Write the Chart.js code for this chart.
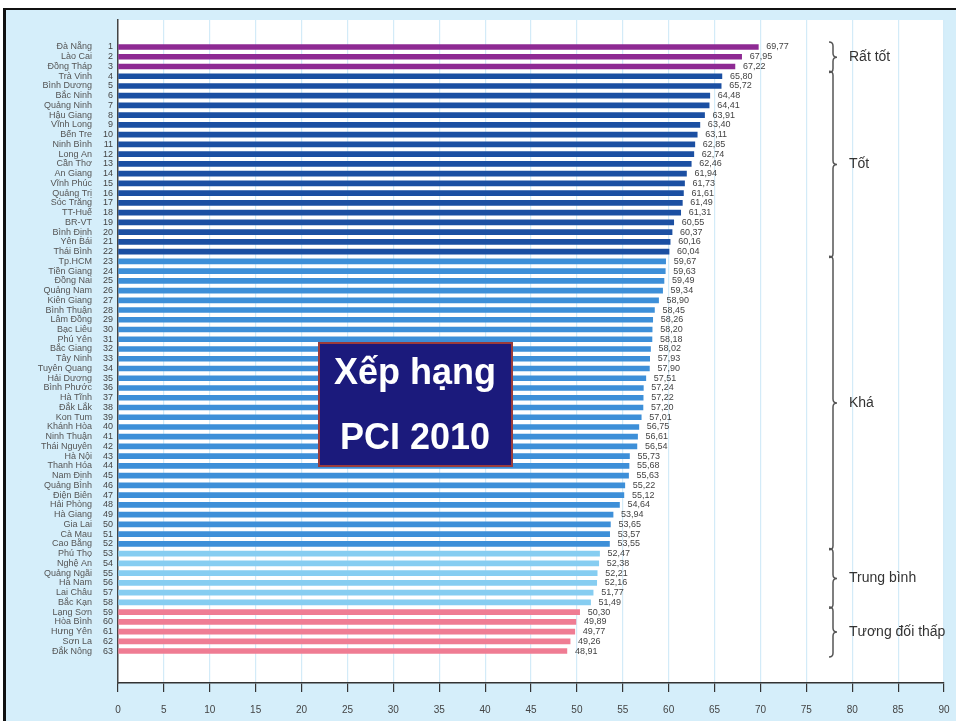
<!DOCTYPE html>
<html>
<head>
<meta charset="utf-8">
<script src="https://cdn.jsdelivr.net/npm/chart.js@4.4.1/dist/chart.umd.min.js"></script>
<style>
  html, body { margin: 0; padding: 0; background: #fff; }
  #wrap { width: 956px; height: 721px; }
</style>
</head>
<body>
<div id="wrap"><canvas id="c" width="956" height="721"></canvas></div>
<script>
const provinces = [
  'Đà Nẵng', 'Lào Cai', 'Đồng Tháp', 'Trà Vinh', 'Bình Dương', 'Bắc Ninh', 'Quảng Ninh',
  'Hậu Giang', 'Vĩnh Long', 'Bến Tre', 'Ninh Bình', 'Long An', 'Cần Thơ', 'An Giang',
  'Vĩnh Phúc', 'Quảng Trị', 'Sóc Trăng', 'TT-Huế', 'BR-VT', 'Bình Định', 'Yên Bái',
  'Thái Bình', 'Tp.HCM', 'Tiền Giang', 'Đồng Nai', 'Quảng Nam', 'Kiên Giang', 'Bình Thuận',
  'Lâm Đồng', 'Bạc Liêu', 'Phú Yên', 'Bắc Giang', 'Tây Ninh', 'Tuyên Quang', 'Hải Dương',
  'Bình Phước', 'Hà Tĩnh', 'Đắk Lắk', 'Kon Tum', 'Khánh Hòa', 'Ninh Thuận', 'Thái Nguyên',
  'Hà Nội', 'Thanh Hóa', 'Nam Định', 'Quảng Bình', 'Điện Biên', 'Hải Phòng', 'Hà Giang',
  'Gia Lai', 'Cà Mau', 'Cao Bằng', 'Phú Thọ', 'Nghệ An', 'Quảng Ngãi', 'Hà Nam',
  'Lai Châu', 'Bắc Kạn', 'Lạng Sơn', 'Hòa Bình', 'Hưng Yên', 'Sơn La', 'Đắk Nông'
];
const scores = [
  69.77, 67.95, 67.22, 65.80, 65.72, 64.48, 64.41,
  63.91, 63.40, 63.11, 62.85, 62.74, 62.46, 61.94,
  61.73, 61.61, 61.49, 61.31, 60.55, 60.37, 60.16,
  60.04, 59.67, 59.63, 59.49, 59.34, 58.90, 58.45,
  58.26, 58.20, 58.18, 58.02, 57.93, 57.90, 57.51,
  57.24, 57.22, 57.20, 57.01, 56.75, 56.61, 56.54,
  55.73, 55.68, 55.63, 55.22, 55.12, 54.64, 53.94,
  53.65, 53.57, 53.55, 52.47, 52.38, 52.21, 52.16,
  51.77, 51.49, 50.30, 49.89, 49.77, 49.26, 48.91
];
const ranks = provinces.map((_, i) => i + 1);

const groupLabels = ['Rất tốt', 'Tốt', 'Khá', 'Trung bình', 'Tương đối thấp'];
const groupFirstRank = [1, 4, 23, 53, 59];
const groupLastRank = [3, 22, 52, 58, 63];
const groupColors = ['#8e2a93', '#1b4fa2', '#3d8fd8', '#86cdf1', '#ef7c93'];

const titleLines = ['Xếp hạng', 'PCI 2010'];

function groupOf(rank) {
  for (let g = 0; g < groupLastRank.length; g++) {
    if (rank <= groupLastRank[g]) return g;
  }
  return groupLastRank.length - 1;
}

const fmt = v => v.toFixed(2).replace('.', ',');
const smallFont = "9px 'Liberation Sans Narrow', 'Liberation Sans', sans-serif";

// background panel + white plot area
const backdrop = {
  id: 'backdrop',
  beforeDraw(chart) {
    const { ctx, chartArea: a } = chart;
    ctx.save();
    ctx.fillStyle = '#ffffff';
    ctx.fillRect(0, 0, chart.width, chart.height);
    ctx.fillStyle = '#d5eefa';
    ctx.fillRect(5, 10, chart.width - 5, chart.height - 10);
    ctx.fillStyle = '#111';
    ctx.fillRect(4, 8, chart.width - 4, 2);
    ctx.fillRect(3, 8, 3, chart.height - 8);
    ctx.fillStyle = '#ffffff';
    ctx.fillRect(a.left, a.top, a.right - a.left, a.bottom - a.top);
    ctx.restore();
  }
};

function brace(ctx, x, top, bottom) {
  const mid = (top + bottom) / 2;
  const r = 4;
  ctx.beginPath();
  ctx.moveTo(x - r, top);
  ctx.quadraticCurveTo(x, top, x, top + r);
  ctx.lineTo(x, mid - r);
  ctx.quadraticCurveTo(x, mid, x + r, mid);
  ctx.quadraticCurveTo(x, mid, x, mid + r);
  ctx.lineTo(x, bottom - r);
  ctx.quadraticCurveTo(x, bottom, x - r, bottom);
  ctx.stroke();
}

const annotations = {
  id: 'annotations',
  afterDatasetsDraw(chart) {
    const { ctx } = chart;
    const meta = chart.getDatasetMeta(0);
    const yScale = chart.scales.y;
    ctx.save();

    // value labels and rank numbers
    ctx.font = smallFont;
    ctx.fillStyle = '#444';
    ctx.textBaseline = 'middle';
    meta.data.forEach((bar, i) => {
      ctx.textAlign = 'left';
      ctx.fillText(fmt(scores[i]), bar.x + 8, bar.y);
      ctx.textAlign = 'right';
      ctx.fillText(String(ranks[i]), 113, bar.y);
    });

    // group braces
    ctx.strokeStyle = '#555';
    ctx.lineWidth = 1.5;
    ctx.fillStyle = '#333';
    ctx.font = "14px 'Liberation Sans', sans-serif";
    ctx.textAlign = 'left';
    groupLabels.forEach((label, g) => {
      const top = yScale.getPixelForValue(groupFirstRank[g]) - 5;
      const bottom = yScale.getPixelForValue(groupLastRank[g]) + 6;
      brace(ctx, 833, top, bottom);
      ctx.fillText(label, 849, (top + bottom) / 2);
    });

    // title box
    ctx.fillStyle = '#1b1a7c';
    ctx.fillRect(319, 343, 193, 123);
    ctx.strokeStyle = '#9a3b3b';
    ctx.lineWidth = 2;
    ctx.strokeRect(319, 343, 193, 123);
    ctx.fillStyle = '#ffffff';
    ctx.font = "bold 36px 'Liberation Sans', Arial, sans-serif";
    ctx.textAlign = 'center';
    ctx.fillText(titleLines[0], 415, 374);
    ctx.fillText(titleLines[1], 415, 439);
    ctx.restore();
  }
};

new Chart(document.getElementById('c'), {
  type: 'bar',
  data: {
    datasets: [{
      data: scores.map((v, i) => ({ x: v, y: ranks[i] })),
      backgroundColor: ranks.map(r => groupColors[groupOf(r)]),
      barThickness: 5,
      borderWidth: 0
    }]
  },
  options: {
    indexAxis: 'y',
    responsive: false,
    devicePixelRatio: 1,
    animation: false,
    layout: { padding: { left: 0, right: 12, top: 20, bottom: 0 } },
    plugins: {
      legend: { display: false },
      tooltip: { enabled: false }
    },
    scales: {
      x: {
        type: 'linear',
        position: 'bottom',
        min: 0,
        max: 90,
        ticks: {
          stepSize: 5,
          color: '#444',
          padding: 12,
          font: { family: "'Liberation Sans Narrow', 'Liberation Sans', sans-serif", size: 10 }
        },
        grid: {
          color: '#d3ebf8',
          lineWidth: 1.2,
          tickColor: '#333',
          tickLength: 9,
          tickWidth: 1.2
        },
        border: { color: '#333', width: 1.5 },
        afterFit: s => { s.height = 38; s.paddingLeft = 0; s.paddingRight = 0; }
      },
      y: {
        type: 'linear',
        reverse: true,
        offset: false,
        min: -1.77,
        max: 66.28,
        afterBuildTicks: s => { s.ticks = ranks.map(r => ({ value: r })); },
        ticks: {
          autoSkip: false,
          padding: 26,
          color: '#555',
          font: { family: "'Liberation Sans Narrow', 'Liberation Sans', sans-serif", size: 9 },
          callback: v => provinces[v - 1] || ''
        },
        grid: { display: true, drawOnChartArea: false, drawTicks: false },
        border: { color: '#444', width: 1.5 },
        afterFit: s => { s.width = 118; s.paddingTop = 0; s.paddingBottom = 0; }
      }
    }
  },
  plugins: [backdrop, annotations]
});
</script>
</body>
</html>
